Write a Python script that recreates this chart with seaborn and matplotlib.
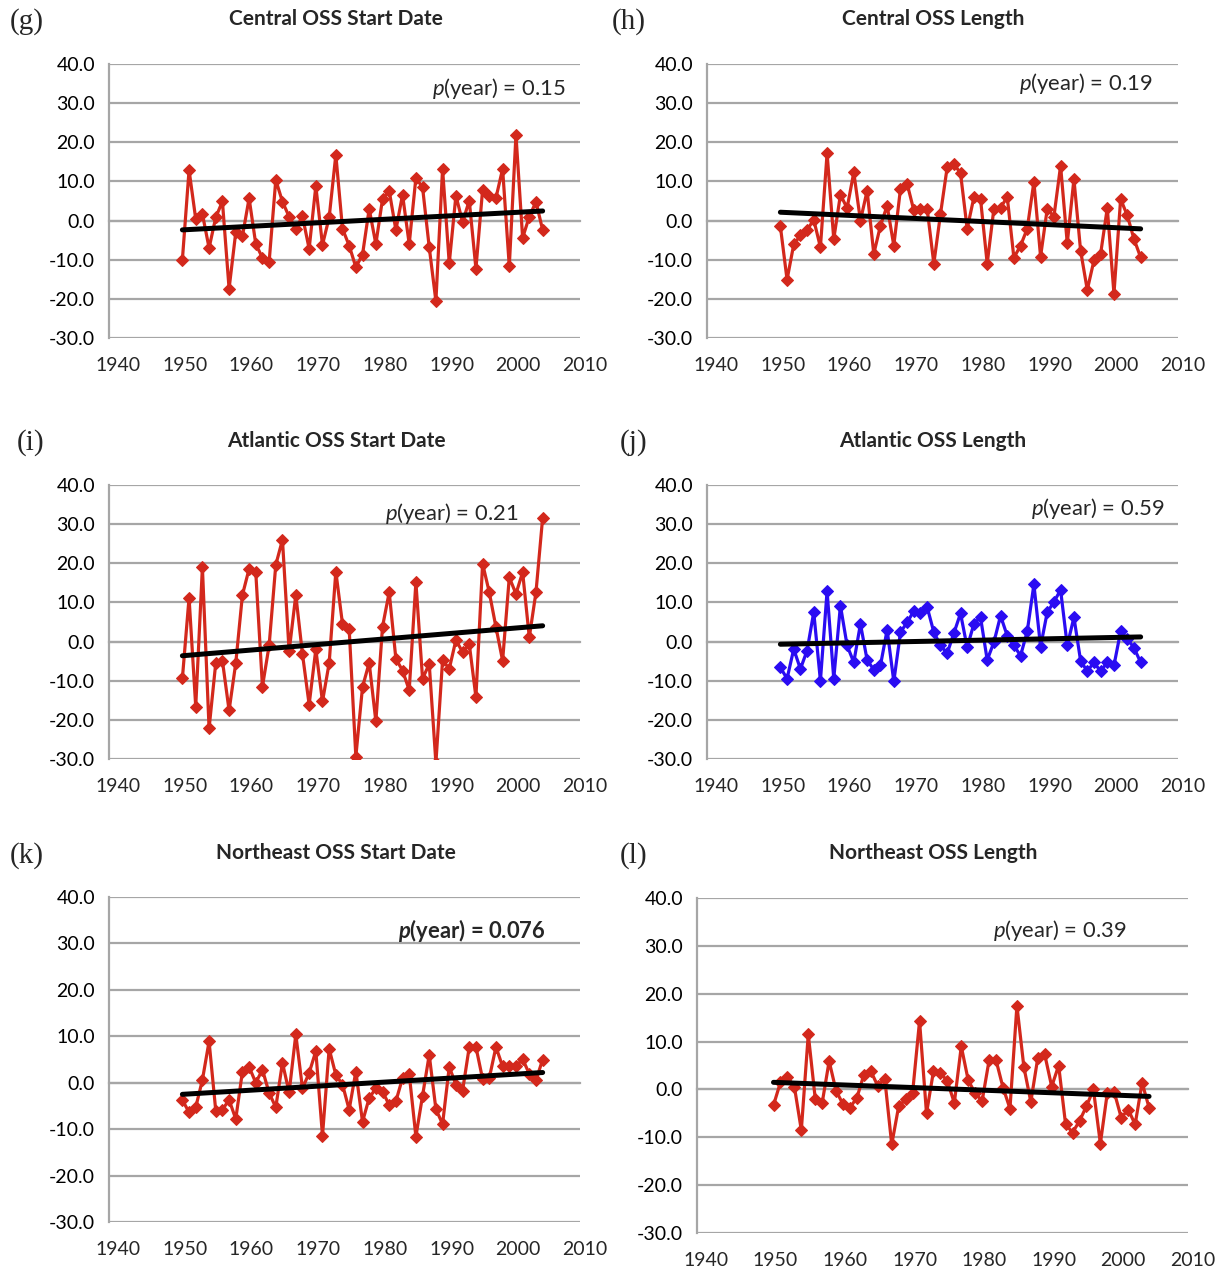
import numpy as np
import matplotlib.pyplot as plt
import seaborn as sns

sns.set_style("white")
plt.rcParams['font.family'] = ['Lato', 'DejaVu Sans']
plt.rcParams['mathtext.fontset'] = 'custom'
plt.rcParams['mathtext.rm'] = 'Lato'
plt.rcParams['mathtext.it'] = 'Lato:italic'
plt.rcParams['mathtext.bf'] = 'Lato:bold'
plt.rcParams['mathtext.bfit'] = 'Lato:bold:italic'

# ---------------- data (anomalies, days) ----------------
years = np.arange(1951, 2006)

central_start = [-10, 12.9, 0.4, 1.7, -7, 0.8, 4.9, -17.4, -3, -4,
                 5.7, -6, -9.5, -10.6, 10.4, 4.8, 1, -2.1, 1.1, -7.2,
                 8.8, -6.2, 0.8, 16.8, -2.1, -6.4, -11.9, -8.7, 3, -6,
                 5.5, 7.6, -2.4, 6.6, -6, 10.9, 8.5, -6.8, -20.6, 13.2,
                 -10.9, 6.4, -0.4, 5.1, -12.3, 7.9, 6.4, 5.8, 13.2, -11.7,
                 21.9, -4.4, 1, 4.8, -2.4]
central_length = [-1.5, -15.1, -6.1, -3.8, -2.4, 0.2, -6.8, 17.2, -4.7, 6.6,
                  3.2, 12.3, 0, 7.6, -8.5, -1.3, 3.8, -6.4, 8.1, 9.4,
                  2.6, 3, 3, -11, 1.7, 13.6, 14.5, 12.1, -2.1, 5.9,
                  5.5, -11, 3, 3.2, 6.1, -9.5, -6.4, -2.1, 9.9, -9.2,
                  3, 1, 14, -5.8, 10.6, -7.7, -17.7, -10.2, -8.5, 3.2,
                  -18.7, 5.5, 1.3, -4.7, -9.4]
atlantic_start = [-9.4, 11.2, -16.6, 19, -22.2, -5.5, -4.9, -17.6, -5.5, 11.9,
                  18.6, 17.7, -11.5, -1, 19.6, 26, -2.5, 11.9, -3.2, -16.1,
                  -2, -15.3, -5.5, 17.9, 4.5, 3.2, -29.4, -11.6, -5.4, -20.4,
                  3.8, 12.6, -4.4, -7.4, -12.4, 15.2, -9.5, -5.7, -31, -4.7,
                  -7, 0.4, -2.7, -0.6, -14.2, 19.9, 12.6, 3.7, -4.9, 16.4,
                  12.2, 17.7, 1.1, 12.6, 31.6]
atlantic_length = [-6.6, -9.5, -1.9, -7, -2.3, 7.5, -10, 12.9, -9.5, 9.2,
                   -1, -5.3, 4.5, -4.7, -7.2, -6.1, 3, -10.2, 2.4, 4.9,
                   7.8, 7.2, 8.8, 2.4, -1, -3, 2.1, 7.2, -1.5, 4.5,
                   6.2, -4.7, -0.2, 6.6, 1.5, -1, -3.6, 2.6, 14.6, -1.3,
                   7.5, 10.1, 13.2, -1, 6.2, -4.9, -7.6, -5.3, -7.6, -5.3,
                   -6.1, 2.6, 0.7, -1.6, -5.3]
northeast_start = [-3.7, -6.4, -5.3, 0.6, 8.9, -6, -5.8, -3.7, -7.8, 2.4,
                   3.4, 0, 2.8, -2.2, -5.3, 4.3, -2.1, 10.4, -1.2, 2.1,
                   6.8, -11.4, 7.3, 1.7, -0.4, -5.8, 2.4, -8.4, -3.3, -1.2,
                   -1.9, -4.8, -4, 1, 1.9, -11.6, -2.8, 6, -5.7, -8.9,
                   3.4, -0.4, -1.7, 7.7, 7.7, 0.8, 1, 7.7, 3.5, 3.5,
                   3.5, 5.1, 1.9, 0.5, 5]
northeast_length = [-3.3, 1.5, 2.6, 0.6, -8.5, 11.5, -1.9, -2.8, 5.9, -0.3,
                    -3.1, -3.8, -1.7, 3.1, 3.8, 0.7, 2.2, -11.5, -3.5, -2.1,
                    -0.7, 14.3, -5, 3.8, 3.5, 1.7, -2.8, 9, 1.9, -0.8,
                    -2.4, 6.1, 6.1, 0.4, -4, 17.5, 4.7, -2.6, 6.6, 7.3,
                    0.6, 5, -7.3, -9, -6.6, -3.5, 0, -11.3, -0.7, -0.6,
                    -5.9, -4.2, -7.3, 1.4, -3.8]

titles = ["Central OSS Start Date", "Central OSS Length",
          "Atlantic OSS Start Date", "Atlantic OSS Length",
          "Northeast OSS Start Date", "Northeast OSS Length"]
letters = ["(g)", "(h)", "(i)", "(j)", "(k)", "(l)"]
p_values = ["0.15", "0.19", "0.21", "0.59", "0.076", "0.39"]
series = [central_start, central_length, atlantic_start,
          atlantic_length, northeast_start, northeast_length]

yticks = np.arange(-30, 41, 10)
xticks = np.arange(1940, 2011, 10)

RED = "#d3281c"
BLUE = "#2a0cf2"
GRID = "#a6a6a6"

W, H = 1220, 1270
fig = plt.figure(figsize=(W / 100, H / 100), dpi=100)


def box(x0, x1, y0, y1):
    return [x0 / W, 1 - y1 / H, (x1 - x0) / W, (y1 - y0) / H]


# layout (pixels)
rects = [box(109, 580, 64, 338), box(707, 1178, 64, 338),
         box(109, 580, 485, 759), box(707, 1178, 485, 759),
         box(109, 580, 897, 1222), box(697, 1188, 898, 1233)]
colors = [RED, RED, RED, BLUE, RED, RED]
p_pos = [(2008.4, 33.7), (2006.7, 35), (2001.3, 32.7),
         (2008.5, 34), (2005.4, 32.8), (2001.8, 33.2)]
letter_pos = [(10, 22), (612, 22), (17, 443), (620, 443), (10, 856), (620, 856)]
title_pos = [(336, 19), (933, 19), (336, 441), (933, 441), (336, 853), (933, 853)]

for i in range(6):
    ax = fig.add_axes(rects[i])
    vals = series[i]
    c = colors[i]

    sns.lineplot(x=years, y=vals, ax=ax, color=c, marker="D", markersize=6.5,
                 markeredgecolor=c, linewidth=2.3, zorder=3)
    sns.regplot(x=years, y=vals, ax=ax, scatter=False, ci=None, truncate=True,
                line_kws=dict(color="black", linewidth=3.6, zorder=4))

    ax.set_xlim(1940, 2010.6)
    ax.set_ylim(-30, 40)
    ax.set_xlabel("")
    ax.set_ylabel("")
    ax.set_yticks(yticks)
    ax.set_yticklabels([f"{v:.1f}" for v in yticks])
    ax.grid(axis="y", color=GRID, linewidth=1.6)
    ax.grid(axis="x", visible=False)
    ax.set_axisbelow(True)

    for s in ["top", "right"]:
        ax.spines[s].set_visible(False)
    ax.spines["left"].set_color(GRID)
    ax.spines["left"].set_linewidth(1.6)
    # horizontal axis crosses at zero, like Excel
    ax.spines["bottom"].set_position(("data", 0))
    ax.spines["bottom"].set_color(GRID)
    ax.spines["bottom"].set_linewidth(1.6)

    ax.tick_params(axis="y", length=0, pad=10, labelsize=14, labelcolor="black")
    ax.set_xticks(xticks)
    ax.tick_params(axis="x", length=5, width=1, color=GRID, direction="out",
                   labelbottom=False)

    # year labels along the bottom of the plot area
    for yr in xticks:
        ax.annotate(str(yr), xy=(yr, 0), xycoords=("data", "axes fraction"),
                    xytext=(6.5, -19.5), textcoords="offset points",
                    ha="center", va="center", fontsize=14,
                    annotation_clip=False)

    px, py = p_pos[i]
    if p_values[i] == "0.076":
        ax.text(px, py, r"$\mathbfit{p}$(year) = " + p_values[i], ha="right",
                va="center", fontsize=15.8, fontweight="bold", zorder=5)
    else:
        ax.text(px, py, r"$\mathit{p}$(year) = " + p_values[i], ha="right",
                va="center", fontsize=15.8, zorder=5)

    lx, ly = letter_pos[i]
    fig.text(lx / W, 1 - ly / H, letters[i], ha="left", va="center",
             family="Liberation Serif", fontsize=21)
    tx, ty = title_pos[i]
    fig.text(tx / W, 1 - ty / H, titles[i], ha="center", va="center",
             fontsize=15, fontweight="bold")

fig.savefig("out.png", dpi=100)
